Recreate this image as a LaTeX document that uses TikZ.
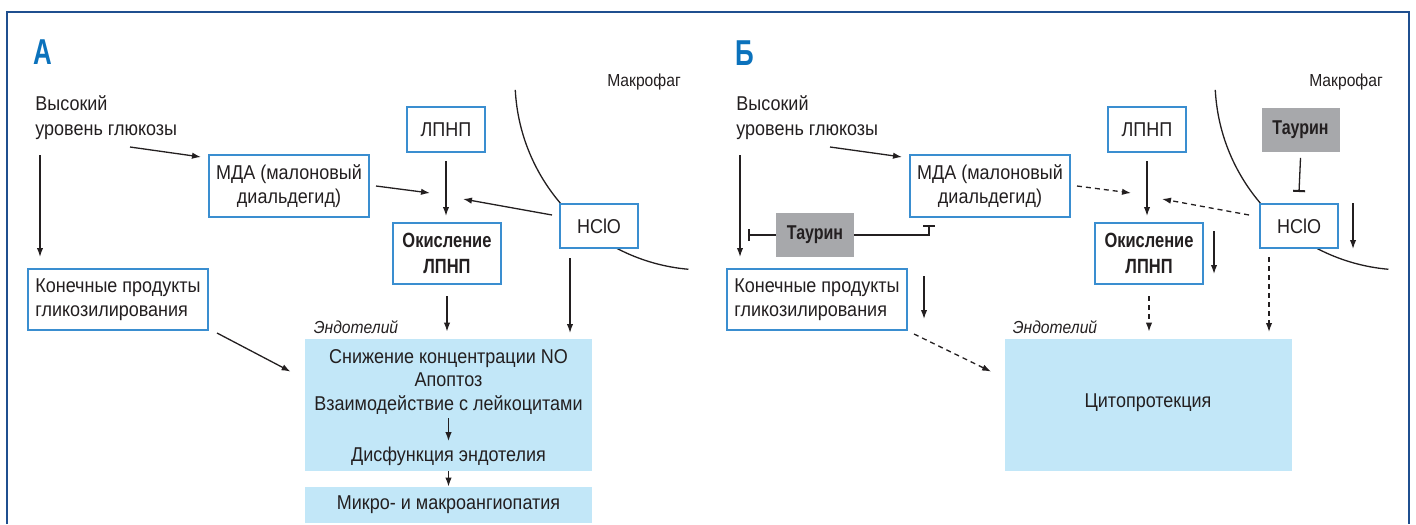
\documentclass[tikz,border=0pt]{standalone}
\usepackage{fontspec}
\setmainfont{Liberation Sans}[FakeStretch=0.9]
\newfontfamily\cbf{Liberation Sans}[FakeStretch=0.8]
\newfontfamily\hdrfont{Liberation Sans}[FakeStretch=0.72]
\usetikzlibrary{arrows.meta}

\definecolor{frameblue}{HTML}{1F4F8F}
\definecolor{boxblue}{HTML}{3A8ED0}
\definecolor{cellblue}{HTML}{C2E7F8}
\definecolor{taugray}{HTML}{A7A8AB}
\definecolor{hdrblue}{HTML}{0B72BC}
\definecolor{ink}{HTML}{231F20}

\begin{document}
\begin{tikzpicture}[x=0.5pt,y=-0.5pt,
  every node/.style={inner sep=0pt,text=ink,font=\fontsize{10}{12}\selectfont},
  box/.style={draw=boxblue,line width=1pt,fill=white,align=center},
  boldbox/.style={box,font=\fontsize{10.3}{13}\cbf\bfseries},
  taubox/.style={fill=taugray,minimum width=39pt,minimum height=22pt,
    font=\fontsize{10}{12}\cbf\bfseries},
  cell/.style={fill=cellblue,minimum width=143.5pt},
  small/.style={font=\fontsize{8.7}{10}\selectfont},
  itsmall/.style={font=\fontsize{8.7}{10}\selectfont\itshape},
  hdr/.style={text=hdrblue,font=\fontsize{18}{18}\hdrfont\bfseries},
  arr/.style={draw=ink,line width=0.65pt,-{Latex[length=4.5pt,width=3.2pt]}},
  darr/.style={arr,dash pattern=on 2.5pt off 2pt},
  inh/.style={draw=ink,line width=0.65pt,-{Bar[width=6pt,line width=1pt]}}]

  % рамка (снизу открыта)
  \useasboundingbox (0,0) rectangle (1416,524);
  \draw[frameblue,line width=1.4pt] (7,524) -- (7,12) -- (1409,12) -- (1409,524);

  % мембрана макрофага
  \draw[ink,line width=0.65pt] (705,80) ++(177:190) arc[start angle=177,end angle=95,radius=190];
  \draw[ink,line width=0.65pt] (1405,80) ++(177:190) arc[start angle=177,end angle=95,radius=190];

  % ---------- А ----------
  \node[hdr] (hdrA) at (43,52) {А};
  \node[small] (macA) at (644,82) {Макрофаг};
  \node[itsmall] (endA) at (356,327) {Эндотелий};

  \node[anchor=west,align=left,font=\fontsize{10}{12.5}\selectfont] (glucA) at (35,118)
    {Высокий\\уровень глюкозы};
  \node[box,minimum width=80pt,minimum height=31pt] (mdaA) at (289,186)
    {МДА (малоновый\\диальдегид)};
  \node[box,minimum width=39pt,minimum height=22.5pt] (ldlA) at (446,129.5) {ЛПНП};
  \node[boldbox,minimum width=54pt,minimum height=30.5pt] (oxA) at (447,253.5)
    {Окисление\\ЛПНП};
  \node[box,minimum width=39pt,minimum height=22pt] (hclA) at (599,226) {HClO};
  \node[box,minimum width=90pt,minimum height=30.5pt,align=left]
    (ageA) at (118,299.5) {Конечные продукты\\гликозилирования};

  \node[cell,minimum height=66pt] (endoA) at (448.5,405) {};
  \node[anchor=base] (l1A) at (448.5,363) {Снижение концентрации NO};
  \node[anchor=base] (l2A) at (448.5,386) {Апоптоз};
  \node[anchor=base] (l3A) at (448.5,410) {Взаимодействие с лейкоцитами};
  \node[anchor=base] (l4A) at (448.5,461) {Дисфункция эндотелия};
  \node[cell,minimum height=18pt] (microA) at (448.5,505) {Микро- и макроангиопатия};

  \coordinate (gA1) at (130,147);
  \coordinate (gA2) at (40,155);
  \coordinate (jA1) at (430,193);
  \coordinate (jA2) at (463,199);

  \draw[arr] (gA1) -- ([xshift=-3.5pt,yshift=-1.5pt]mdaA.north west);
  \draw[arr] (gA2) -- ([yshift=5.5pt]ageA.north -| gA2);
  \draw[arr] ([xshift=3pt]mdaA.east) -- (jA1);
  \draw[arr] ([xshift=-3.5pt,yshift=5.5pt]hclA.west) -- (jA2);
  \draw[arr] ([yshift=-4pt]ldlA.south) -- ++(0,55);
  \draw[arr] ([yshift=-5.5pt]oxA.south) -- ([yshift=3.5pt]endoA.north -| oxA.south);
  \draw[arr] ([xshift=-14.5pt,yshift=-4.5pt]hclA.south) -- ++(0,75);
  \draw[arr] ([xshift=4pt,yshift=-1pt]ageA.south east) -- ([xshift=-7pt,yshift=-16.5pt]endoA.north west);
  \draw[arr] ([yshift=-2pt]l3A.south) -- ([yshift=2.5pt]l4A.north);
  \draw[arr] (endoA.south) -- (microA.north);

  % ---------- Б ----------
  \node[hdr] (hdrB) at (745,53) {Б};
  \node[small] (macB) at (1346,82) {Макрофаг};
  \node[itsmall] (endB) at (1055,327) {Эндотелий};

  \node[anchor=west,align=left,font=\fontsize{10}{12.5}\selectfont] (glucB) at (736,118)
    {Высокий\\уровень глюкозы};
  \node[box,minimum width=80pt,minimum height=31pt] (mdaB) at (990,186)
    {МДА (малоновый\\диальдегид)};
  \node[box,minimum width=39pt,minimum height=22.5pt] (ldlB) at (1147,129.5) {ЛПНП};
  \node[boldbox,minimum width=54pt,minimum height=30.5pt] (oxB) at (1149,253.5)
    {Окисление\\ЛПНП};
  \node[box,minimum width=39pt,minimum height=22pt] (hclB) at (1299,226) {HClO};
  \node[box,minimum width=90pt,minimum height=30.5pt,align=left]
    (ageB) at (817,299.5) {Конечные продукты\\гликозилирования};
  \node[taubox] (taurL) at (815,235) {Таурин};
  \node[taubox] (taurR) at (1300.5,129.5) {Таурин};

  \node[cell,minimum height=66pt] (endoB) at (1148,405) {};
  \node (cytB) at (1148,403) {Цитопротекция};

  \coordinate (gB1) at (830,147);
  \coordinate (gB2) at (740,155);
  \coordinate (tB1) at (748,235);
  \coordinate (jB1) at (1131,193);
  \coordinate (jB2) at (1162,199);

  \draw[arr] (gB1) -- ([xshift=-3.5pt,yshift=-1.5pt]mdaB.north west);
  \draw[arr] (gB2) -- ([yshift=5.5pt]ageB.north -| gB2);
  \draw[inh] (taurL.west) -- (tB1);
  \draw[inh] (taurL.east) -| ([xshift=10pt,yshift=-3.5pt]mdaB.south west);
  \draw[inh] ([yshift=-3pt]taurR.south) -- ([yshift=5.5pt]hclB.north);
  \draw[darr] ([xshift=3pt]mdaB.east) -- (jB1);
  \draw[darr] ([xshift=-5pt,yshift=5.5pt]hclB.west) -- (jB2);
  \draw[arr] ([yshift=-4pt]ldlB.south) -- ++(0,55);
  \draw[arr] ([xshift=7pt]hclB.north east) -- ([xshift=7pt]hclB.south east);
  \draw[arr] ([xshift=5pt,yshift=-4.5pt]oxB.north east) -- ++(0,43);
  \draw[arr] ([xshift=8pt,yshift=-4pt]ageB.north east) -- ++(0,43);
  \draw[darr] ([yshift=-5.5pt]oxB.south) -- ([yshift=3.5pt]endoB.north -| oxB.south);
  \draw[darr] ([xshift=-15pt,yshift=-4pt]hclB.south) -- ++(0,75);
  \draw[darr] ([xshift=3pt,yshift=-1.5pt]ageB.south east) -- ([xshift=-6.5pt,yshift=-16.5pt]endoB.north west);

\end{tikzpicture}
\end{document}
